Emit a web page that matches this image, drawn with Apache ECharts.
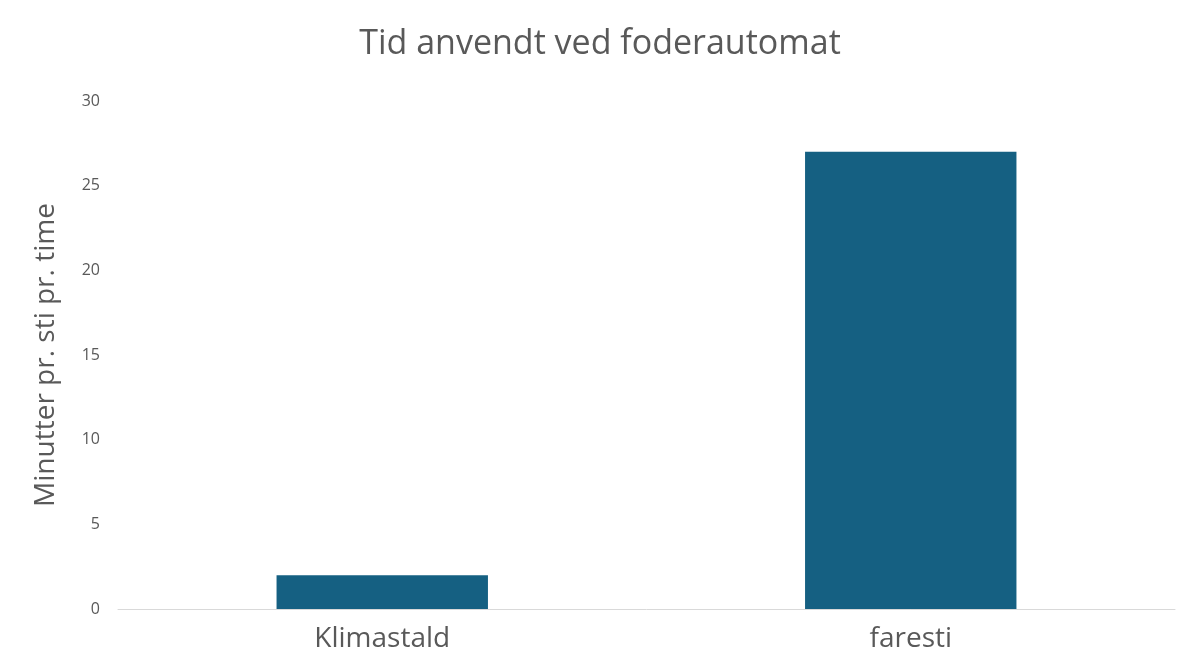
<!DOCTYPE html>
<html><head><meta charset="utf-8">
<script src="https://cdn.jsdelivr.net/npm/echarts@6/dist/echarts.min.js"></script>
<style>html,body{margin:0;padding:0;background:#fff}#c{width:1200px;height:672px}</style>
</head><body><div id="c"></div>
<script>
const categories = ['Klimastald', 'faresti'];
const values = [2, 27];
const chart = echarts.init(document.getElementById('c'));
chart.setOption({
  animation: false,
  title: { text: 'Tid anvendt ved foderautomat', left: 'center', top: 22,
    textStyle: { fontFamily: 'Open Sans', fontSize: 34, fontWeight: 'normal', color: '#595959' } },
  grid: { left: 118, right: 25, top: 101, bottom: 63 },
  xAxis: { type: 'category', data: categories,
    axisLine: { lineStyle: { color: '#d9d9d9' } }, axisTick: { show: false },
    axisLabel: { fontFamily: 'Open Sans', fontSize: 28, color: '#595959', margin: 16 } },
  yAxis: { type: 'value', min: 0, max: 30, interval: 5,
    name: 'Minutter pr. sti pr. time', nameLocation: 'middle', nameGap: 58,
    nameTextStyle: { fontFamily: 'Open Sans', fontSize: 28, color: '#595959' },
    splitLine: { show: false }, axisLine: { show: false }, axisTick: { show: false },
    axisLabel: { fontFamily: 'Open Sans', fontSize: 16, color: '#595959', margin: 18 } },
  series: [{ type: 'bar', data: values, barWidth: '40%', itemStyle: { color: '#156082' } }]
});
</script></body></html>
